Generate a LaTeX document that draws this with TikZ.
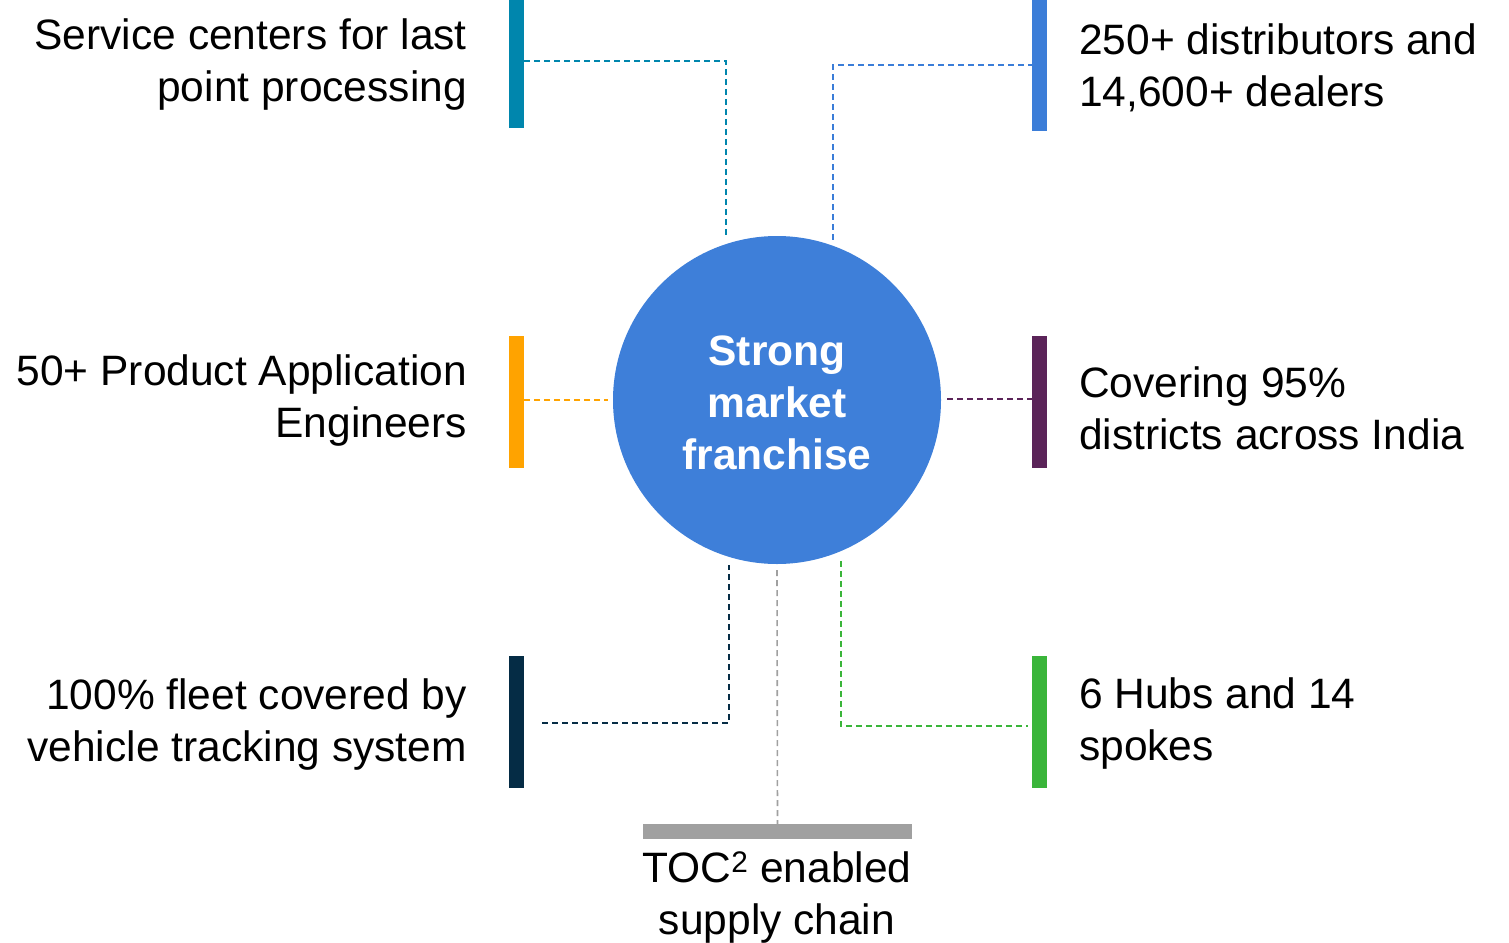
\documentclass[tikz,border=0pt]{standalone}
\usepackage{fontspec}
\setmainfont{Liberation Sans}
\usetikzlibrary{calc}
\definecolor{cTL}{HTML}{0086AD}
\definecolor{cTR}{HTML}{3B7DD8}
\definecolor{cC}{HTML}{3E7FD9}
\definecolor{cML}{HTML}{FFA300}
\definecolor{cMR}{HTML}{5B2459}
\definecolor{cBL}{HTML}{052C45}
\definecolor{cBR}{HTML}{3AB53A}
\definecolor{cG}{HTML}{A0A0A0}
\tikzset{
  bar/.style={rectangle, draw=none, inner sep=0pt, minimum width=15pt, minimum height=132pt},
  dl/.style={dash pattern=on 6pt off 4pt, line width=1.6pt},
  txt/.style={inner sep=0pt, font=\fontsize{42.5}{52}\selectfont},
  lt/.style={txt, anchor=east, align=right},
  rt/.style={txt, anchor=west, align=left},
}
\begin{document}
\begin{tikzpicture}[x=1pt,y=-1pt]
\useasboundingbox (0,0) rectangle (1509,942);
% bars
\node[bar, fill=cTL, minimum height=128pt] (bTL) at (516.5,64) {};
\node[bar, fill=cTR, minimum height=131pt] (bTR) at (1039.5,65.5) {};
\node[bar, fill=cML] (bML) at (516.5,402) {};
\node[bar, fill=cMR] (bMR) at (1039.5,402) {};
\node[bar, fill=cBL] (bBL) at (516.5,722) {};
\node[bar, fill=cBR] (bBR) at (1039.5,722) {};
\node[rectangle, fill=cG, inner sep=0pt, minimum width=269pt, minimum height=15pt] (bB) at (777.5,831.5) {};
% circle
\node[circle, fill=cC, inner sep=0pt, minimum size=328pt] (C) at (777,400) {};
\node[txt, text=white, align=center, font=\fontsize{42.5}{52}\selectfont\bfseries] (tC) at ($(C.center)+(0,3)$) {Strong\\market\\franchise};
% connectors
\draw[dl, cTL] (bTL.east |- {(0,61)}) -| ($(C.108)+(0,-6)$);
\draw[dl, cTR] ($(C.70)+(0,-6)$) |- (bTR.west |- {(0,65)});
\draw[dl, cML] (bML.east |- C.west) -- ($(C.west)+(-5,0)$);
\draw[dl, cMR] ($(C.east)+(6,-1)$) -- (bMR.west |- {(0,399)});
\draw[dl, cBL] ($(bBL.east)+(18,1)$) -| ($(C.253)+(0,8)$);
\draw[dl, cBR] ($(C.293)+(0,10)$) |- ($(bBR.west)+(-4,4)$);
\draw[dl, cG] ($(C.south)+(0,6)$) -- (bB.north);
% texts
\node[lt] (tTL) at (467,65) {Service centers for last\\point processing};
\node[rt] (tTR) at (1079,68) {250+ distributors and\\14,600+ dealers};
\node[lt] (tML) at (467,401) {50+ Product Application\\Engineers};
\node[rt] (tMR) at (1079,408) {Covering 95\%\\districts across India};
\node[lt] (tBL) at (467,725) {100\% fleet covered by\\vehicle tracking system};
\node[rt] (tBR) at (1079,724) {6 Hubs and 14\\spokes};
\node[txt, align=center] (tB) at (777,897) {TOC\textsuperscript{2} enabled\\supply chain};
\end{tikzpicture}
\end{document}
